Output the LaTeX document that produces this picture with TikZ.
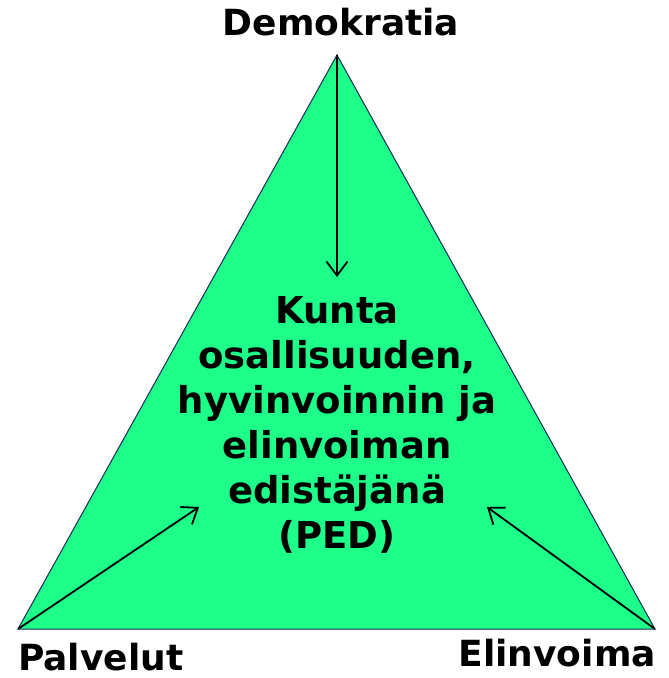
\documentclass[tikz,border=0pt]{standalone}
\usepackage{fontspec}
\setmainfont{DejaVu Sans}
\usetikzlibrary{arrows.meta}
\definecolor{pedgreen}{RGB}{30,255,138}
\definecolor{pednavy}{RGB}{25,40,90}
\begin{document}
\begin{tikzpicture}[x=1pt,y=-1pt,
  corner/.style={font=\fontsize{36}{43}\selectfont\bfseries,inner sep=0pt,text depth=0pt},
  arr/.style={-{Straight Barb[length=14pt,width=21pt]},line width=1.8pt}]
\useasboundingbox (0,0) rectangle (669,678);

\coordinate (top) at (337,55);
\coordinate (left) at (18,629);
\coordinate (right) at (655,629);
\filldraw[fill=pedgreen,draw=pednavy,line width=1pt] (top) -- (left) -- (right) -- cycle;

\node[corner,anchor=base] (demo) at (341,35) {Demokratia};
\node[corner,anchor=base west] (palv) at (18,670) {Palvelut};
\node[corner,anchor=base east] (elin) at (656,666) {Elinvoima};

% base anchor sits on the last line (PED)
\node[anchor=base,align=center,inner sep=0pt,
  font=\fontsize{37}{45}\selectfont\bfseries] (ped) at (337,548)
  {Kunta\\osallisuuden,\\hyvinvoinnin ja\\elinvoiman\\edistäjänä\\(PED)};

\coordinate (downtip) at (337,277);
\coordinate (lefttip) at (199,507);
\coordinate (righttip) at (487,507);
\draw[arr] (top) -- (downtip);
\draw[arr] (left) -- (lefttip);
\draw[arr] (right) -- (righttip);
\end{tikzpicture}
\end{document}
